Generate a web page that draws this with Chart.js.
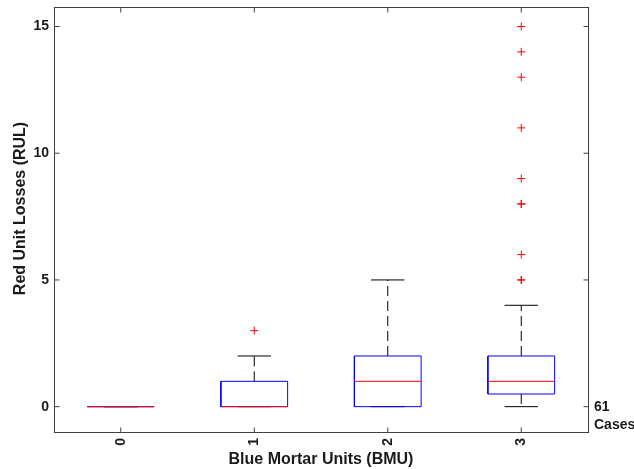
<!DOCTYPE html>
<html>
<head>
<meta charset="utf-8">
<title>Red Unit Losses by Blue Mortar Units</title>
<script src="https://cdn.jsdelivr.net/npm/chart.js@4"></script>
<style>
  html, body { margin: 0; padding: 0; background: #fff; }
  canvas { display: block; }
</style>
</head>
<body>
<canvas id="boxChart" width="634" height="469"></canvas>
<script>
// box statistics per number of blue mortar units
const units = [0, 1, 2, 3];
const lowerWhisker = [0, 0, 0, 0];
const q1 = [0, 0, 0, 0.5];
const medians = [0, 0, 1, 1];
const q3 = [0, 1, 2, 2];
const upperWhisker = [0, 2, 5, 4];
const outliers = [[], [3], [], [5, 5, 6, 8, 8, 9, 11, 13, 14, 15]];
const yTicks = [0, 5, 10, 15];
const caseCount = 61;

const BOX_HALF = 0.25;
const CAP_HALF = 0.125;
const TICK_LEN = 5;
const AXIS_COLOR = '#404040';
const TEXT_COLOR = '#1a1a1a';
const FONT_FAMILY = '"Liberation Sans", Arial, Helvetica, sans-serif';

const lineBase = { showLine: true, pointRadius: 0, pointHoverRadius: 0, borderWidth: 1, fill: false, tension: 0 };

const boxSets = units.map((u, i) => ({
  ...lineBase,
  order: 2,
  borderColor: '#0000ff',
  data: [
    { x: u - BOX_HALF, y: q1[i] },
    { x: u + BOX_HALF, y: q1[i] },
    { x: u + BOX_HALF, y: q3[i] },
    { x: u - BOX_HALF, y: q3[i] },
    { x: u - BOX_HALF, y: q1[i] }
  ]
}));

const medianSets = units.map((u, i) => ({
  ...lineBase,
  order: 1,
  borderColor: '#ff0000',
  data: [{ x: u - BOX_HALF, y: medians[i] }, { x: u + BOX_HALF, y: medians[i] }]
}));

const whiskerSets = units.flatMap((u, i) => [
  { ...lineBase, order: 4, borderColor: '#000000', borderDash: [10, 5],
    data: [{ x: u, y: q3[i] }, { x: u, y: upperWhisker[i] }] },
  { ...lineBase, order: 4, borderColor: '#000000', borderDash: [10, 5],
    data: [{ x: u, y: q1[i] }, { x: u, y: lowerWhisker[i] }] }
]);

const capSets = units.flatMap((u, i) => [
  { ...lineBase, order: 3, borderColor: '#000000',
    data: [{ x: u - CAP_HALF, y: upperWhisker[i] }, { x: u + CAP_HALF, y: upperWhisker[i] }] },
  { ...lineBase, order: 3, borderColor: '#000000',
    data: [{ x: u - CAP_HALF, y: lowerWhisker[i] }, { x: u + CAP_HALF, y: lowerWhisker[i] }] }
]);

const outlierSet = {
  order: 0,
  showLine: false,
  pointStyle: 'cross',
  pointRadius: 4,
  pointHoverRadius: 4,
  pointBorderColor: '#ff0000',
  pointBorderWidth: 1,
  data: units.flatMap((u, i) => outliers[i].map(v => ({ x: u, y: v })))
};

// boxed axes with inward ticks on all four sides, y label and the case count note
const framePlugin = {
  id: 'frame',
  afterDatasetsDraw(chart) {
    const { ctx, chartArea: a, scales: { x, y } } = chart;
    const l = Math.round(a.left) + 0.5, r = Math.round(a.right) + 0.5;
    const t = Math.round(a.top) + 0.5, b = Math.round(a.bottom) + 0.5;
    ctx.save();
    ctx.strokeStyle = AXIS_COLOR;
    ctx.lineWidth = 1;
    ctx.strokeRect(l, t, r - l, b - t);
    ctx.beginPath();
    yTicks.forEach(v => {
      const py = y.getPixelForValue(v);
      ctx.moveTo(l, py); ctx.lineTo(l + TICK_LEN, py);
      ctx.moveTo(r, py); ctx.lineTo(r - TICK_LEN, py);
    });
    units.forEach(v => {
      const px = x.getPixelForValue(v);
      ctx.moveTo(px, b); ctx.lineTo(px, b - TICK_LEN);
      ctx.moveTo(px, t); ctx.lineTo(px, t + TICK_LEN);
    });
    ctx.stroke();

    ctx.fillStyle = TEXT_COLOR;
    ctx.font = 'bold 14px ' + FONT_FAMILY;
    ctx.textAlign = 'left';
    ctx.textBaseline = 'middle';
    const zeroY = y.getPixelForValue(0);
    ctx.fillText(String(caseCount), a.right + 6, zeroY);
    ctx.fillText('Cases', a.right + 6, zeroY + 18);

    // y axis label, sitting a little above the middle of the axis
    ctx.font = 'bold 16px ' + FONT_FAMILY;
    ctx.textAlign = 'center';
    ctx.translate(21, (a.top + a.bottom) / 2 - 11);
    ctx.rotate(-Math.PI / 2);
    ctx.fillText('Red Unit Losses (RUL)', 0, 0);
    ctx.restore();
  }
};

new Chart(document.getElementById('boxChart'), {
  type: 'scatter',
  data: { datasets: [outlierSet, ...medianSets, ...boxSets, ...capSets, ...whiskerSets] },
  options: {
    responsive: false,
    animation: false,
    events: [],
    layout: { padding: { left: 0, right: 46, top: 7, bottom: 0 } },
    plugins: { legend: { display: false }, tooltip: { enabled: false } },
    scales: {
      x: {
        type: 'linear',
        min: -0.5,
        max: 3.5,
        afterBuildTicks: s => { s.ticks = units.map(v => ({ value: v })); },
        afterFit: s => { s.height = 37; s.paddingLeft = 0; s.paddingRight = 0; },
        grid: { display: false, drawTicks: false },
        border: { display: false },
        ticks: {
          autoSkip: false,
          minRotation: 90,
          maxRotation: 90,
          padding: 6,
          color: TEXT_COLOR,
          font: { family: FONT_FAMILY, size: 14, weight: 'bold' },
          callback: v => String(v)
        },
        title: {
          display: true,
          text: 'Blue Mortar Units (BMU)',
          color: TEXT_COLOR,
          font: { family: FONT_FAMILY, size: 16, weight: 'bold' },
          padding: { top: 0, bottom: 0 }
        }
      },
      y: {
        type: 'linear',
        min: -1,
        max: 15.77,
        afterBuildTicks: s => { s.ticks = yTicks.map(v => ({ value: v })); },
        afterFit: s => { s.width = 54; s.paddingTop = 0; s.paddingBottom = 0; },
        grid: { display: false, drawTicks: false },
        border: { display: false },
        ticks: {
          padding: 5,
          color: TEXT_COLOR,
          font: { family: FONT_FAMILY, size: 14, weight: 'bold' },
          callback: v => String(v)
        }
      }
    }
  },
  plugins: [framePlugin]
});
</script>
</body>
</html>
